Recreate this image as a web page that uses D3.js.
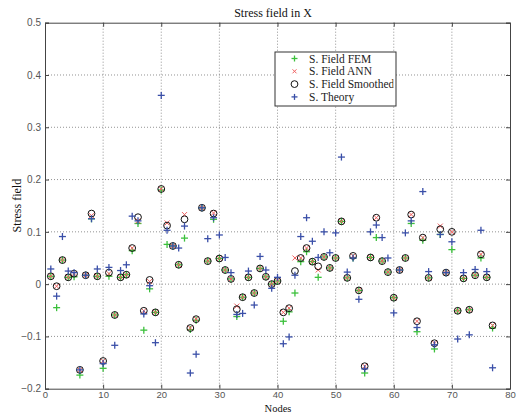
<!DOCTYPE html>
<html>
<head>
<meta charset="utf-8">
<script src="https://cdn.jsdelivr.net/npm/d3@7/dist/d3.min.js"></script>
<style>
  body { margin: 0; background: #fff; }
  svg { display: block; }
</style>
</head>
<body>
<svg></svg>
<script>
// node numbers 1..77
var nodes = d3.range(1, 78);

var fem = [0.015,-0.045,0.046,0.013,0.014,-0.174,0.017,0.125,0.015,-0.161,
  0.015,-0.059,0.013,0.018,0.064,0.116,-0.088,-0.009,-0.054,0.180,
  0.076,0.073,0.037,0.088,-0.087,-0.069,0.146,0.044,0.124,0.049,
  0.027,0.010,-0.062,-0.025,0.013,-0.017,0.030,0.014,0.000,0.006,
  -0.071,-0.053,-0.017,0.043,0.062,0.043,0.013,0.052,0.031,0.050,
  0.120,0.012,0.050,-0.012,-0.170,0.051,0.089,0.044,0.023,-0.026,
  0.027,0.050,0.116,-0.091,0.084,0.012,-0.124,0.095,0.022,0.066,
  -0.051,0.011,-0.049,0.017,0.050,0.013,-0.084];

var ann = [0.015,-0.004,0.046,0.013,0.020,-0.164,0.017,0.131,0.015,-0.147,
  0.020,-0.059,0.013,0.018,0.069,0.121,-0.051,0.005,-0.054,0.182,
  0.117,0.073,0.037,0.133,-0.084,-0.067,0.146,0.044,0.136,0.049,
  0.027,0.010,-0.042,-0.025,0.013,-0.017,0.030,0.014,0.000,0.006,
  -0.054,-0.046,0.050,0.050,0.069,0.043,0.027,0.052,0.031,0.050,
  0.120,0.012,0.054,-0.012,-0.157,0.051,0.127,0.044,0.023,-0.026,
  0.027,0.050,0.133,-0.071,0.089,0.012,-0.113,0.111,0.022,0.100,
  -0.051,0.011,-0.049,0.017,0.057,0.013,-0.079];

var smoothed = [0.015,-0.004,0.046,0.013,0.020,-0.164,0.017,0.135,0.015,-0.147,
  0.022,-0.059,0.013,0.018,0.069,0.128,-0.051,0.008,-0.054,0.182,
  0.112,0.073,0.037,0.124,-0.084,-0.067,0.146,0.044,0.135,0.049,
  0.027,0.010,-0.048,-0.025,0.013,-0.017,0.030,0.014,0.000,0.006,
  -0.054,-0.046,0.025,0.050,0.069,0.043,0.034,0.052,0.031,0.050,
  0.120,0.012,0.054,-0.012,-0.157,0.051,0.127,0.044,0.023,-0.026,
  0.027,0.050,0.133,-0.071,0.089,0.012,-0.113,0.105,0.022,0.100,
  -0.051,0.011,-0.049,0.017,0.057,0.013,-0.079];

var theory = [0.029,-0.023,0.091,0.025,0.022,-0.164,0.017,0.125,0.029,-0.152,
  0.032,-0.117,0.026,0.037,0.130,0.121,-0.057,-0.003,-0.112,0.361,
  0.103,0.073,0.069,0.111,-0.170,-0.134,0.146,0.087,0.127,0.094,
  0.051,0.022,-0.058,-0.056,0.025,-0.040,0.053,0.027,-0.008,0.013,
  -0.114,-0.101,0.017,0.091,0.127,0.082,0.051,0.100,0.060,0.098,
  0.243,0.023,0.050,-0.029,-0.162,0.100,0.113,0.089,0.050,-0.055,
  0.027,0.098,0.121,-0.083,0.177,0.024,-0.116,0.095,0.022,0.081,
  -0.105,0.022,-0.097,0.028,0.103,0.024,-0.160];

var xTicks = [0,10,20,30,40,50,60,70,80];
var yTicks = [-0.2,-0.1,0,0.1,0.2,0.3,0.4,0.5];
var legendNames = ['S. Field FEM','S. Field ANN','S. Field Smoothed ANN','S. Theory'];

var svgwidth = 516, svgheight = 412;
var margins = {top:22.7, bottom:23.3, left:45, right:6};

var svg = d3.select('svg').attr('width',svgwidth).attr('height',svgheight);

var x = d3.scaleLinear().domain([0,80]).range([margins.left, svgwidth-margins.right]);
var y = d3.scaleLinear().domain([-0.2,0.5]).range([svgheight-margins.bottom, margins.top]);

var tickFont = 'Liberation Sans, Arial, sans-serif';
var serif = 'Liberation Serif, Times New Roman, serif';

// grid
svg.append('g').selectAll('line').data(xTicks.slice(1,-1)).enter().append('line')
  .attr('x1',function(d){return x(d);}).attr('x2',function(d){return x(d);})
  .attr('y1',y(0.5)).attr('y2',y(-0.2))
  .attr('stroke','#777').attr('stroke-width',0.8).attr('stroke-dasharray','1,2');
svg.append('g').selectAll('line').data(yTicks.slice(1,-1)).enter().append('line')
  .attr('y1',function(d){return y(d);}).attr('y2',function(d){return y(d);})
  .attr('x1',x(0)).attr('x2',x(80))
  .attr('stroke','#777').attr('stroke-width',0.8).attr('stroke-dasharray','1,2');

// axes, matlab style: ticks inside on all four sides
var bottomAxis = d3.axisBottom(x).tickValues(xTicks).tickSize(-4).tickPadding(3).tickFormat(d3.format('d'));
var leftAxis = d3.axisLeft(y).tickValues(yTicks).tickSize(-4).tickPadding(4)
  .tickFormat(function(d){ return d === 0 ? '0' : d3.format('.1f')(d); });
var topAxis = d3.axisTop(x).tickValues(xTicks).tickSize(-4).tickFormat('');
var rightAxis = d3.axisRight(y).tickValues(yTicks).tickSize(-4).tickFormat('');

function styleAxis(g){
  g.select('.domain').attr('stroke','#444');
  g.selectAll('.tick line').attr('stroke','#444');
  g.selectAll('text').attr('fill','#555').style('font-family',tickFont).style('font-size','10px');
}
svg.append('g').attr('transform','translate(0,'+y(-0.2)+')').call(bottomAxis).call(styleAxis)
  .selectAll('text').style('font-size','9.5px');
svg.append('g').attr('transform','translate('+x(0)+',0)').call(leftAxis).call(styleAxis);
svg.append('g').attr('transform','translate(0,'+y(0.5)+')').call(topAxis).call(styleAxis);
svg.append('g').attr('transform','translate('+x(80)+',0)').call(rightAxis).call(styleAxis);

// markers
function plus(g, cx, cy, col, s){
  g.append('line').attr('x1',cx-s).attr('x2',cx+s).attr('y1',cy).attr('y2',cy)
    .attr('stroke',col).attr('stroke-width',1.3);
  g.append('line').attr('x1',cx).attr('x2',cx).attr('y1',cy-s).attr('y2',cy+s)
    .attr('stroke',col).attr('stroke-width',1.3);
}
function cross(g, cx, cy, col, s){
  g.append('path').attr('d','M'+(cx-s)+','+(cy-s)+'L'+(cx+s)+','+(cy+s)+'M'+(cx-s)+','+(cy+s)+'L'+(cx+s)+','+(cy-s))
    .attr('stroke',col).attr('stroke-width',1).attr('fill','none');
}
function circ(g, cx, cy){
  g.append('circle').attr('cx',cx).attr('cy',cy).attr('r',3.4)
    .attr('fill','none').attr('stroke','#111').attr('stroke-width',1);
}

var plot = svg.append('g').classed('plot',true);
var gFem = plot.append('g'), gAnn = plot.append('g'), gSm = plot.append('g'), gTh = plot.append('g');
nodes.forEach(function(n,i){
  plus(gFem, x(n), y(fem[i]), '#3cc03c', 3.5);
  cross(gAnn, x(n), y(ann[i]), '#f06060', 2.5);
  circ(gSm, x(n), y(smoothed[i]));
  plus(gTh, x(n), y(theory[i]), '#3a4fa8', 3.5);
});

// title and labels
svg.append('text').attr('x',273).attr('y',17).attr('text-anchor','middle')
  .style('font-family',serif).style('font-size','12px').attr('fill','#111')
  .text('Stress field in X');
svg.append('text').attr('x',278).attr('y',411.5).attr('text-anchor','middle')
  .style('font-family',serif).style('font-size','10.5px').attr('fill','#111')
  .text('Nodes');
svg.append('text').attr('transform','translate(21,'+((y(0.5)+y(-0.2))/2)+') rotate(-90)')
  .attr('text-anchor','middle')
  .style('font-family',serif).style('font-size','12px').attr('fill','#111')
  .text('Stress field');

// legend
var lx = 275, ly = 52, lw = 121, lh = 54;
svg.append('clipPath').attr('id','legclip').append('rect')
  .attr('x',lx).attr('y',ly).attr('width',lw-2.5).attr('height',lh);
var leg = svg.append('g');
leg.append('rect').attr('x',lx).attr('y',ly).attr('width',lw).attr('height',lh)
  .attr('fill','#fff').attr('stroke','#333').attr('stroke-width',1);
legendNames.forEach(function(name,i){
  var cy = ly + 6.5 + i*12.8;
  if(i==0) plus(leg, 294.5, cy, '#3cc03c', 3);
  if(i==1) cross(leg, 294.5, cy, '#f06060', 2);
  if(i==2) circ(leg, 294.5, cy);
  if(i==3) plus(leg, 294.5, cy, '#3a4fa8', 3);
  leg.append('text').attr('x',309).attr('y',cy+4)
    .attr('clip-path','url(#legclip)')
    .style('font-family',serif).style('font-size','11.5px').attr('fill','#222')
    .text(name);
});
</script>
</body>
</html>
